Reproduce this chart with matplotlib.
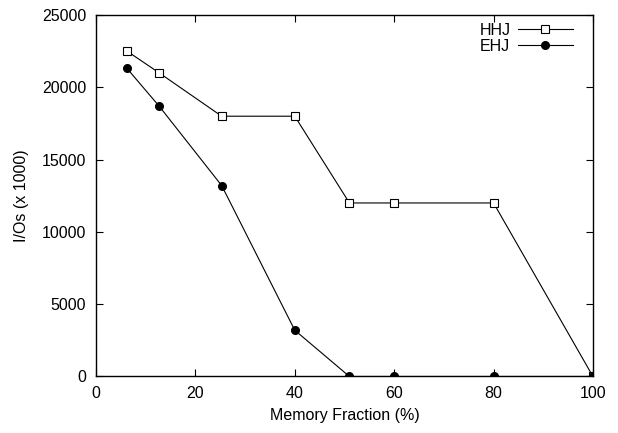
import matplotlib
matplotlib.use('Agg')
import matplotlib.pyplot as plt

plt.rcParams['font.family'] = ['Liberation Sans', 'DejaVu Sans']

# 数据
mem_frac = [6.25, 12.7, 25.3, 40, 51, 60, 80, 100]
hhj = [22500, 21000, 18000, 18000, 12000, 12000, 12000, 0]
ehj = [21300, 18700, 13200, 3200, 0, 0, 0, 0]

fig = plt.figure(figsize=(6.18, 4.33), dpi=100)
ax = fig.add_axes([0.1553, 0.1305, 0.8042, 0.8349])

ax.plot(mem_frac, hhj, color='black', lw=0.8, marker='s', markersize=5.5,
        markerfacecolor='white', markeredgecolor='black', markeredgewidth=0.8, label='HHJ')
ax.plot(mem_frac, ehj, color='black', lw=0.8, marker='o', markersize=5.5,
        markerfacecolor='black', label='EHJ')

ax.set_xlim(0, 100)
ax.set_ylim(0, 25000)
ax.set_xticks([0, 20, 40, 60, 80, 100])
ax.set_yticks([0, 5000, 10000, 15000, 20000, 25000])
ax.tick_params(direction='in', top=True, right=True, length=5, width=0.8,
               labelsize=11.5, pad=7)
for s in ax.spines.values():
    s.set_linewidth(1.0)

ax.set_xlabel('Memory Fraction (%)', fontsize=11.5, labelpad=5)
ax.set_ylabel('I/Os (x 1000)', fontsize=11.5, labelpad=9)

ax.legend(loc='upper right', bbox_to_anchor=(0.975, 1.0), frameon=False,
          markerfirst=False, fontsize=11.5, handlelength=3.4, handletextpad=0.5,
          labelspacing=0.05, borderaxespad=0.1)

fig.savefig('out.png', dpi=100)
